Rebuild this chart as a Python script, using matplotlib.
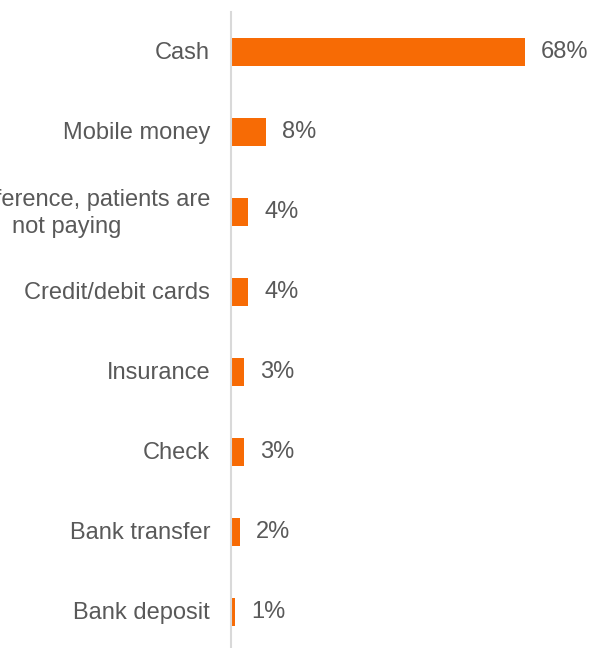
import matplotlib
matplotlib.use("Agg")
import matplotlib.pyplot as plt

plt.rcParams['font.family'] = ['Liberation Sans', 'DejaVu Sans']

categories = ['Cash', 'Mobile money', 'No preference, patients are\nnot paying',
              'Credit/debit cards', 'Insurance', 'Check', 'Bank transfer', 'Bank deposit']
values = [68, 8, 4, 4, 3, 3, 2, 1]

bar_color = '#F76B05'
text_color = '#595959'

fig = plt.figure(figsize=(5.89, 6.48), dpi=100)
ax = fig.add_axes([231/589, -4/648, 358/589, 640/648])

y = list(range(len(categories)))
ax.barh(y, values, height=0.35, color=bar_color)
ax.set_ylim(len(categories) - 0.5, -0.5)
ax.set_xlim(0, 358/4.32)

for yi, v, lab in zip(y, values, categories):
    ax.annotate(f'{v}%', (v, yi), xytext=(11.5, 0), textcoords='offset points',
                ha='left', va='center', fontsize=17, color=text_color)
    ax.annotate(lab, (0, yi), xytext=(-15, -1), textcoords='offset points',
                ha='right', va='center', fontsize=17, color=text_color,
                multialignment='center', linespacing=1.25,
                annotation_clip=False)

for s in ['top', 'right', 'bottom']:
    ax.spines[s].set_visible(False)
ax.spines['left'].set_color('#D9D9D9')
ax.spines['left'].set_linewidth(1.5)
ax.set_xticks([])
ax.set_yticks([])

fig.savefig('out.png', dpi=100)
